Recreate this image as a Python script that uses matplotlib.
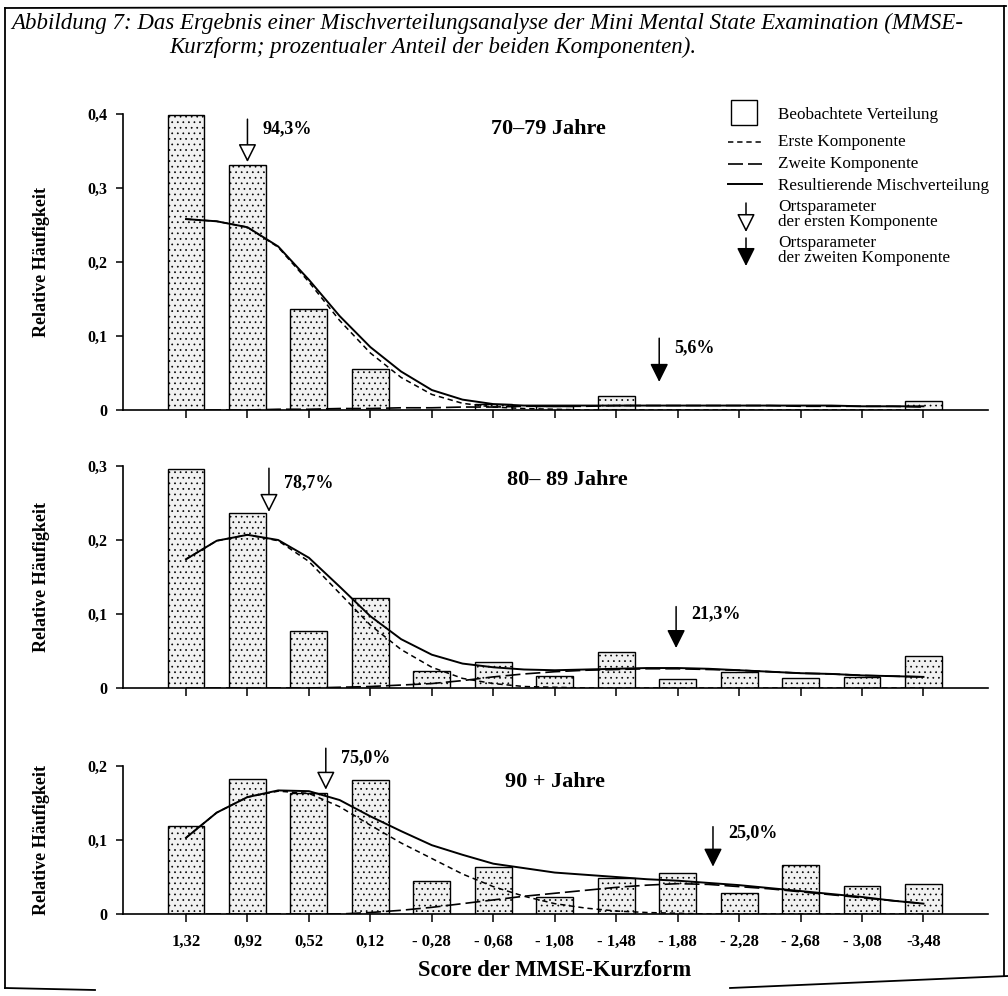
import matplotlib
matplotlib.use("Agg")
import matplotlib.pyplot as plt
from matplotlib.lines import Line2D
from matplotlib.patches import Rectangle, FancyArrowPatch

plt.rcParams["font.family"] = ["Liberation Serif", "DejaVu Serif"]
plt.rcParams["hatch.color"] = "#c6c6c6"
plt.rcParams["hatch.linewidth"] = 0.5

# ------------------------------------------------------------
# Data
# ------------------------------------------------------------
scores = [1.32, 0.92, 0.52, 0.12, -0.28, -0.68, -1.08, -1.48, -1.88,
          -2.28, -2.68, -3.08, -3.48]
score_labels = ["1,32", "0,92", "0,52", "0,12", "- 0,28", "- 0,68", "- 1,08",
                "- 1,48", "- 1,88", "- 2,28", "- 2,68", "- 3,08", "-3,48"]

# observed relative frequencies
obs_7079 = [0.398, 0.331, 0.136, 0.055, 0.0, 0.008, 0.006, 0.019, 0.0,
            0.0, 0.0, 0.0, 0.012]
obs_8089 = [0.296, 0.236, 0.077, 0.122, 0.023, 0.035, 0.016, 0.049, 0.012,
            0.021, 0.014, 0.015, 0.043]
obs_90 = [0.119, 0.183, 0.164, 0.181, 0.045, 0.063, 0.023, 0.048, 0.056,
          0.028, 0.066, 0.038, 0.040]

# fitted curves, read at half steps of the score axis
curve_x = [1.32, 1.12, 0.92, 0.72, 0.52, 0.32, 0.12, -0.08, -0.28, -0.48,
           -0.68, -0.88, -1.08, -1.28, -1.48, -1.68, -1.88, -2.08, -2.28,
           -2.48, -2.68, -2.88, -3.08, -3.28, -3.48]

mix_7079 = [0.258, 0.255, 0.247, 0.221, 0.176, 0.127, 0.085, 0.052, 0.027,
            0.014, 0.008, 0.006, 0.006, 0.006, 0.006, 0.006, 0.006, 0.006,
            0.006, 0.006, 0.006, 0.006, 0.005, 0.005, 0.005]
first_7079 = [0.258, 0.255, 0.247, 0.220, 0.173, 0.121, 0.077, 0.044, 0.021,
              0.009, 0.004, 0.002, 0.001, 0.0, 0.0, 0.0, 0.0, 0.0, 0.0, 0.0,
              0.0, 0.0, 0.0, 0.0, 0.0]
second_7079 = [0.0, 0.0, 0.0, 0.001, 0.001, 0.002, 0.002, 0.003, 0.003,
               0.004, 0.004, 0.005, 0.005, 0.005, 0.006, 0.006, 0.006, 0.006,
               0.006, 0.006, 0.005, 0.005, 0.005, 0.005, 0.004]

mix_8089 = [0.174, 0.199, 0.207, 0.200, 0.176, 0.137, 0.097, 0.066, 0.045,
            0.033, 0.028, 0.025, 0.024, 0.025, 0.026, 0.027, 0.027, 0.026,
            0.024, 0.022, 0.020, 0.019, 0.017, 0.016, 0.015]
first_8089 = [0.174, 0.199, 0.207, 0.199, 0.171, 0.128, 0.085, 0.052, 0.028,
              0.013, 0.006, 0.002, 0.001, 0.0, 0.0, 0.0, 0.0, 0.0, 0.0, 0.0,
              0.0, 0.0, 0.0, 0.0, 0.0]
second_8089 = [0.0, 0.0, 0.0, 0.0, 0.0, 0.001, 0.002, 0.004, 0.006, 0.010,
               0.015, 0.019, 0.022, 0.024, 0.025, 0.026, 0.026, 0.025, 0.024,
               0.022, 0.020, 0.019, 0.017, 0.016, 0.015]

mix_90 = [0.103, 0.137, 0.158, 0.167, 0.166, 0.154, 0.132, 0.112, 0.093,
          0.080, 0.068, 0.062, 0.056, 0.053, 0.050, 0.047, 0.045, 0.042,
          0.039, 0.035, 0.031, 0.027, 0.023, 0.018, 0.014]
first_90 = [0.103, 0.137, 0.158, 0.166, 0.163, 0.145, 0.120, 0.096, 0.075,
            0.054, 0.037, 0.024, 0.014, 0.008, 0.004, 0.002, 0.001, 0.0, 0.0,
            0.0, 0.0, 0.0, 0.0, 0.0, 0.0]
second_90 = [0.0, 0.0, 0.0, 0.0, 0.0, 0.0, 0.002, 0.005, 0.009, 0.014, 0.019,
             0.024, 0.028, 0.032, 0.036, 0.039, 0.041, 0.040, 0.037, 0.034,
             0.030, 0.026, 0.022, 0.018, 0.014]

# location parameters of both components and their shares
loc_first = [0.92, 0.78, 0.41]
loc_second = [-1.76, -1.87, -2.11]
share_first = ["94,3%", "78,7%", "75,0%"]
share_second = ["5,6%", "21,3%", "25,0%"]
age_groups = ["70\u201379 Jahre", "80\u2013 89 Jahre", "90 + Jahre"]

# ------------------------------------------------------------
# Layout helpers (pixel -> figure fraction)
# ------------------------------------------------------------
W, H = 1008, 996
fig = plt.figure(figsize=(W / 100, H / 100), dpi=100)


def fx(px):
    return px / W


def fy(py):
    return 1 - py / H


panels = [
    dict(zero=410, top=114, ymax=0.4, yt=[0, 0.1, 0.2, 0.3, 0.4],
         obs=obs_7079, mix=mix_7079, first=first_7079, second=second_7079,
         a1=(0.393, 0.335, 0.380), a2=(0.097, 0.038, 0.084),
         title=(-1.04, 0.380)),
    dict(zero=688, top=466, ymax=0.3, yt=[0, 0.1, 0.2, 0.3],
         obs=obs_8089, mix=mix_8089, first=first_8089, second=second_8089,
         a1=(0.297, 0.238, 0.278), a2=(0.110, 0.054, 0.101),
         title=(-1.16, 0.281)),
    dict(zero=914, top=766, ymax=0.2, yt=[0, 0.1, 0.2],
         obs=obs_90, mix=mix_90, first=first_90, second=second_90,
         a1=(0.224, 0.168, 0.211), a2=(0.118, 0.064, 0.110),
         title=(-1.08, 0.178)),
]

head = "-|>,head_length=0.8,head_width=0.4"

for k, p in enumerate(panels):
    ax = fig.add_axes([fx(123), fy(p["zero"]), fx(988) - fx(123),
                       (p["zero"] - p["top"]) / H])
    ax.bar(scores, p["obs"], width=0.24, color="#f1f1f1", edgecolor="black",
           hatch="...", linewidth=1.0, zorder=2)
    ax.plot(curve_x, p["second"], color="black", lw=1.2,
            ls=(0, (9, 3)), zorder=3)
    ax.plot(curve_x, p["first"], color="black", lw=1.1,
            ls=(0, (3.5, 2.5)), zorder=3)
    ax.plot(curve_x, p["mix"], color="black", lw=1.4, zorder=4)

    ax.set_xlim(1.73, -3.90)
    ax.set_ylim(0, p["ymax"])
    for s in ["top", "right"]:
        ax.spines[s].set_visible(False)
    ax.spines["left"].set_linewidth(1.2)
    ax.spines["bottom"].set_linewidth(1.2)
    ax.set_yticks(p["yt"])
    ax.set_yticklabels(["0" if v == 0 else f"{v:.1f}".replace(".", ",")
                        for v in p["yt"]], fontsize=11.5, fontweight="bold")
    ax.set_xticks(scores)
    if k == 2:
        ax.set_xticklabels(score_labels, fontsize=12, fontweight="bold")
    else:
        ax.set_xticklabels([])
    ax.tick_params(axis="y", direction="out", length=5, width=1.1, pad=6)
    ax.tick_params(axis="x", direction="out", length=6, width=1.1, pad=8)

    # first component location (open arrow)
    top, tip, ty = p["a1"]
    ax.annotate("", xy=(loc_first[k], tip), xytext=(loc_first[k], top),
                arrowprops=dict(arrowstyle=head, mutation_scale=14,
                                fc="white", ec="black", lw=1.1,
                                shrinkA=0, shrinkB=0),
                annotation_clip=False)
    ax.annotate(share_first[k], xy=(loc_first[k], ty), xytext=(11, 0),
                textcoords="offset points", ha="left", va="center",
                fontsize=13, fontweight="bold", annotation_clip=False)

    # second component location (filled arrow)
    top, tip, ty = p["a2"]
    ax.annotate("", xy=(loc_second[k], tip), xytext=(loc_second[k], top),
                arrowprops=dict(arrowstyle=head, mutation_scale=14,
                                fc="black", ec="black", lw=1.1,
                                shrinkA=0, shrinkB=0),
                annotation_clip=False)
    ax.annotate(share_second[k], xy=(loc_second[k], ty), xytext=(11, 0),
                textcoords="offset points", ha="left", va="center",
                fontsize=13, fontweight="bold", annotation_clip=False)

    tx, tyy = p["title"]
    ax.text(tx, tyy, age_groups[k], ha="center", va="center", fontsize=16,
            fontweight="bold")

    fig.text(fx(42), fy((p["zero"] + p["top"]) / 2), "Relative H\u00e4ufigkeit",
             rotation=90, ha="center", va="center", fontsize=13,
             fontweight="bold")

fig.text(fx(555), fy(970), "Score der MMSE-Kurzform", ha="center",
         va="center", fontsize=16.3, fontweight="bold")

# ------------------------------------------------------------
# Caption
# ------------------------------------------------------------
fig.text(fx(11), fy(23), "Abbildung 7: Das Ergebnis einer Mischverteilungsanalyse "
         "der Mini Mental State Examination (MMSE-", ha="left", va="center",
         fontsize=16.5, style="italic")
fig.text(fx(169), fy(47), "Kurzform; prozentualer Anteil der beiden Komponenten).",
         ha="left", va="center", fontsize=16.5, style="italic")

# ------------------------------------------------------------
# Legend (drawn by hand, as in the print)
# ------------------------------------------------------------
tr = fig.transFigure
leg_x = fx(778)
fig.add_artist(Rectangle((fx(731), fy(125)), fx(757) - fx(731),
                         fy(100) - fy(125), transform=tr, fc="white",
                         ec="black", lw=1.0))
fig.add_artist(Line2D([fx(728), fx(762)], [fy(142), fy(142)], transform=tr,
                      color="black", lw=1.1, ls=(0, (3.5, 2.5))))
fig.add_artist(Line2D([fx(728), fx(762)], [fy(164), fy(164)], transform=tr,
                      color="black", lw=1.2, ls=(0, (9, 3))))
fig.add_artist(Line2D([fx(728), fx(762)], [fy(184), fy(184)], transform=tr,
                      color="black", lw=1.4))
fig.add_artist(FancyArrowPatch((fx(746), fy(203)), (fx(746), fy(232)),
                               transform=tr, arrowstyle=head,
                               mutation_scale=14, fc="white", ec="black",
                               lw=1.1, shrinkA=0, shrinkB=0))
fig.add_artist(FancyArrowPatch((fx(746), fy(238)), (fx(746), fy(266)),
                               transform=tr, arrowstyle=head,
                               mutation_scale=14, fc="black", ec="black",
                               lw=1.1, shrinkA=0, shrinkB=0))
legend_rows = [
    (115, "Beobachtete Verteilung"),
    (142, "Erste Komponente"),
    (164, "Zweite Komponente"),
    (186, "Resultierende Mischverteilung"),
    (207, "Ortsparameter"),
    (222, "der ersten Komponente"),
    (243, "Ortsparameter"),
    (258, "der zweiten Komponente"),
]
for py, txt in legend_rows:
    fig.text(leg_x, fy(py), txt, ha="left", va="center", fontsize=12.3)

# ------------------------------------------------------------
# Frame around the figure
# ------------------------------------------------------------
frame = [
    ([5, 1006], [8, 6]),
    ([5, 5], [8, 988]),
    ([1004, 1004], [6, 976]),
    ([5, 95], [988, 990]),
    ([730, 1008], [988, 976]),
]
for xs, ys in frame:
    fig.add_artist(Line2D([fx(v) for v in xs], [fy(v) for v in ys],
                          transform=tr, color="black", lw=1.3))

fig.savefig("out.png", dpi=100, facecolor="white")
